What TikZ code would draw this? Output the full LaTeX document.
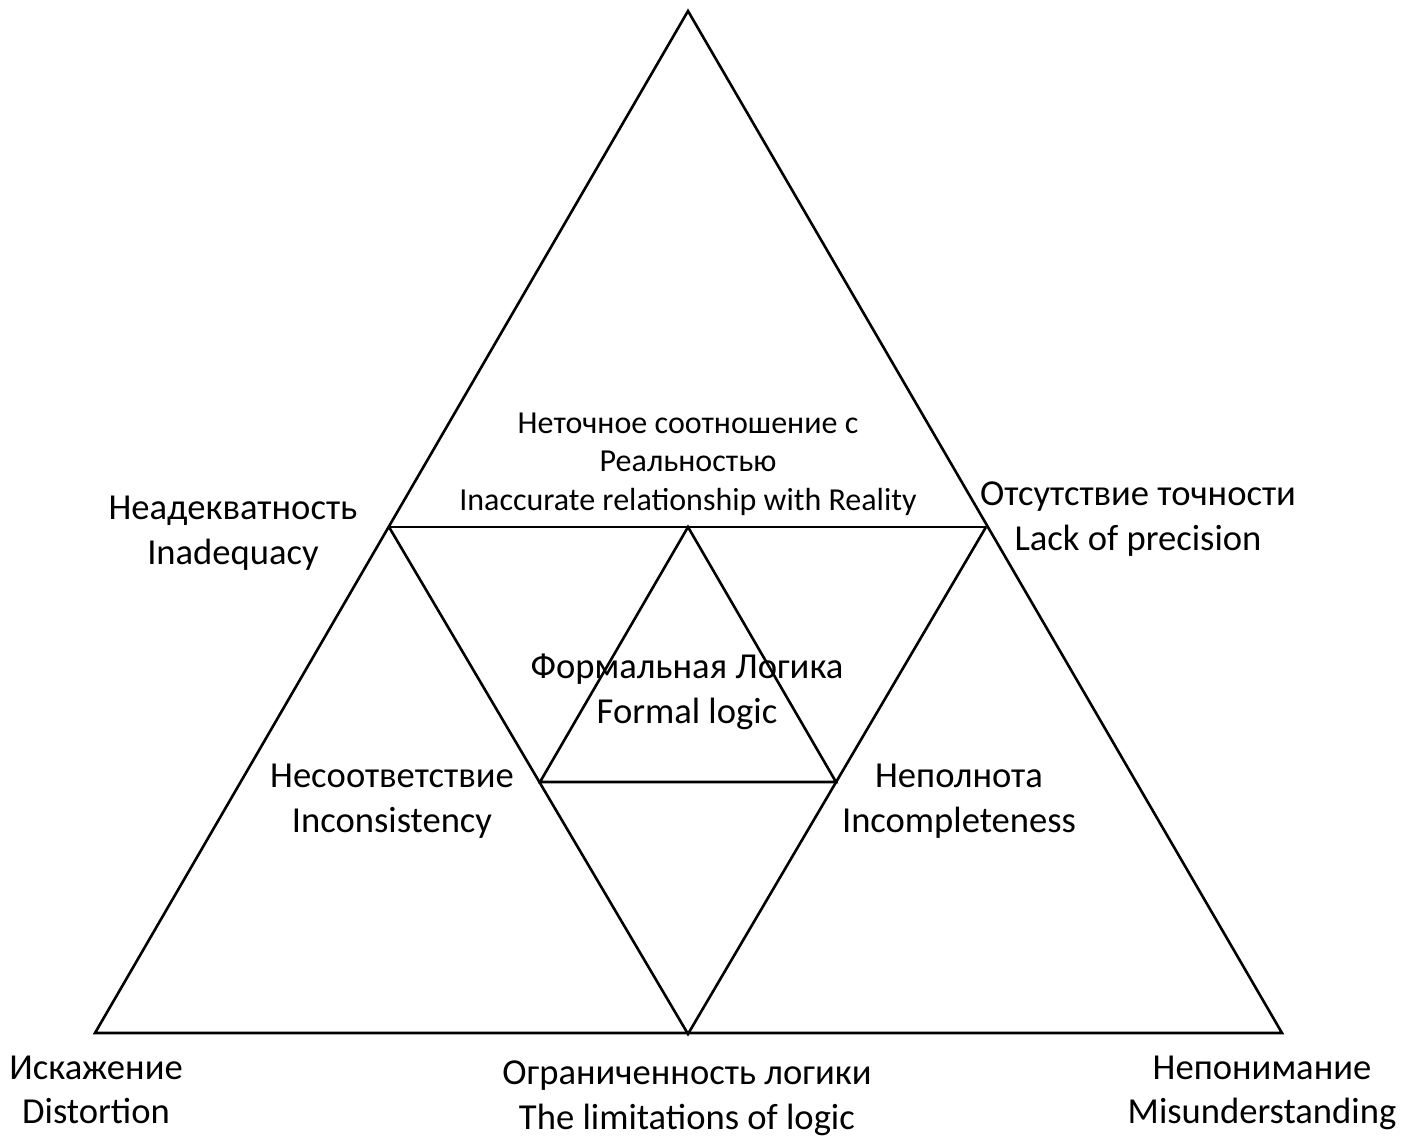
\documentclass[tikz,border=0pt]{standalone}
\usepackage{fontspec}
\setmainfont{Carlito}
\begin{document}
\begin{tikzpicture}[x=1pt,y=-1pt,
  edge/.style={line width=2.6pt, line join=miter},
  bigtext/.style={align=center, inner sep=0pt, font=\fontsize{36.6}{44.7}\selectfont},
  smalltext/.style={align=center, inner sep=0pt, font=\fontsize{32}{38.5}\selectfont}]
\useasboundingbox (0,0) rectangle (1402,1139);
% outer triangle
\coordinate (A) at (688,11);
\coordinate (B) at (95,1033);
\coordinate (C) at (1282,1033);
% points on the outer sides and the bottom
\coordinate (L) at (389,527);
\coordinate (R) at (986,527);
\coordinate (M) at (688,1034);
% inner triangle
\coordinate (T) at (688,527);
\coordinate (I1) at (540,782);
\coordinate (I2) at (836,782);

\draw[edge] (A) -- (B) -- (C) -- cycle;
\draw[edge] (L) -- (R);
\draw[edge] (L) -- (M) -- (R);
\draw[edge] (I1) -- (T) -- (I2) -- cycle;

\node[smalltext] (top) at (688,464) {Неточное соотношение с\\Реальностью\\Inaccurate relationship with Reality};
\node[bigtext] (inad) at (233,533) {Неадекватность\\Inadequacy};
\node[bigtext] (prec) at (1138,519) {Отсутствие точности\\Lack of precision};
\node[bigtext] (logic) at (687,692) {Формальная Логика\\Formal logic};
\node[bigtext] (incons) at (392,801) {Несоответствие\\Inconsistency};
\node[bigtext] (incompl) at (959,801) {Неполнота\\Incompleteness};
\node[bigtext] (dist) at (96,1090) {Искажение\\Distortion};
\node[bigtext] (limit) at (687,1098) {Ограниченность логики\\The limitations of logic};
\node[bigtext] (misund) at (1262,1093) {Непонимание\\Misunderstanding};
\end{tikzpicture}
\end{document}
